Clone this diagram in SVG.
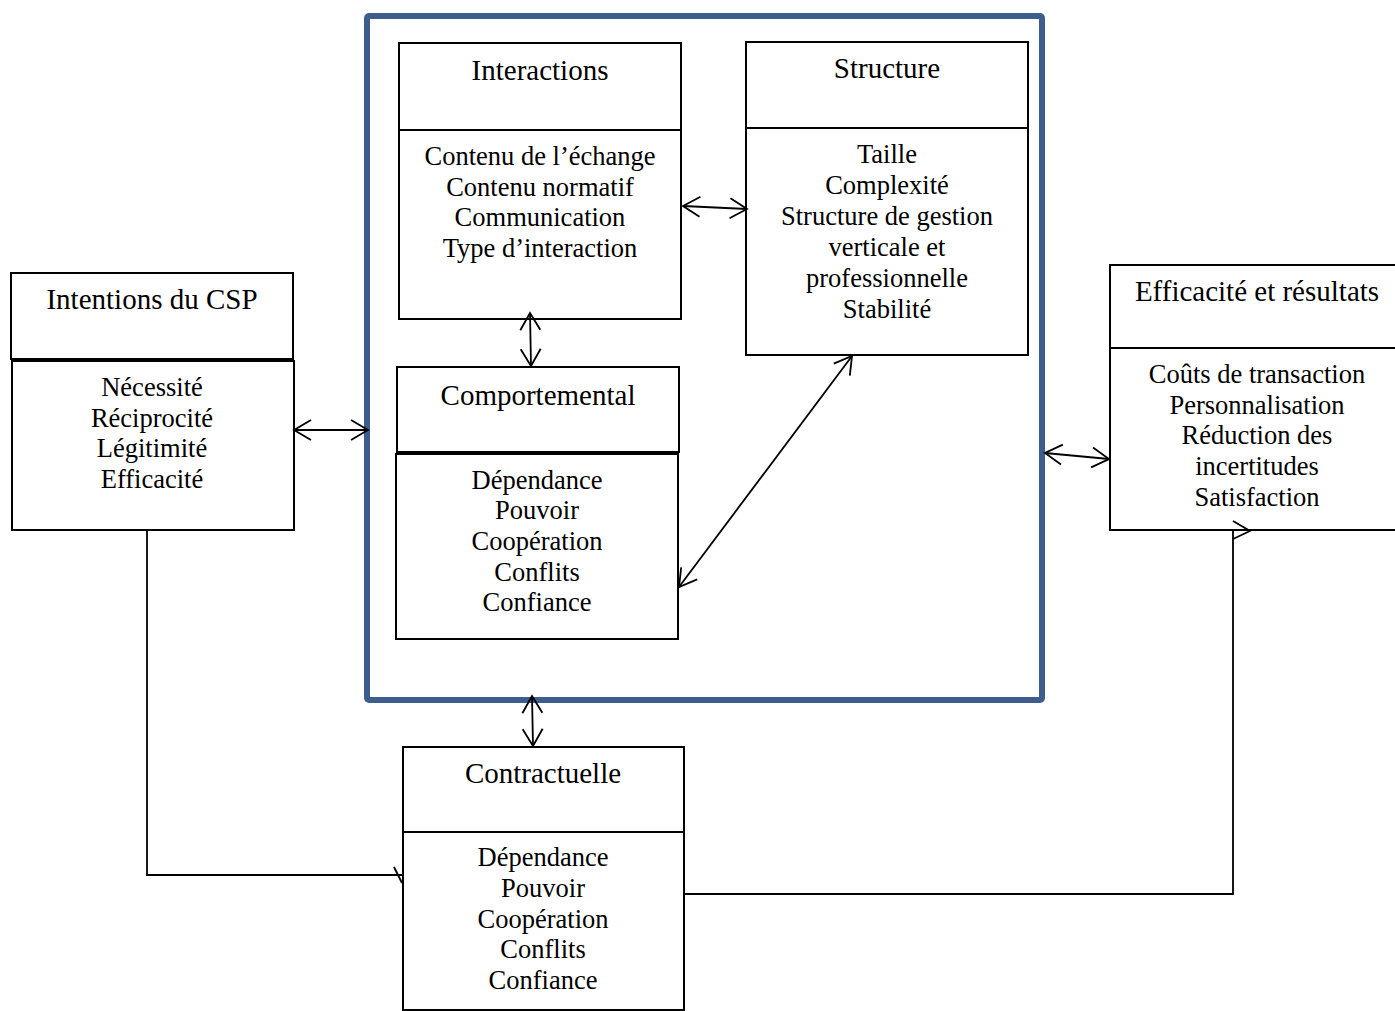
<svg xmlns="http://www.w3.org/2000/svg" width="1395" height="1011" viewBox="0 0 1395 1011">
  <style>
    .box { fill: #ffffff; stroke: #000000; stroke-width: 2; }
    .title { font-family: "Liberation Serif", "Times New Roman", serif; font-size: 29px; fill: #000000; text-anchor: middle; }
    .body { font-family: "Liberation Serif", "Times New Roman", serif; font-size: 26.5px; fill: #000000; text-anchor: middle; }
    .link { fill: none; stroke: #000000; stroke-width: 1.8; }
    .frame { fill: none; stroke: #3D5E8C; stroke-width: 6; }
  </style>
  <defs>
    <marker id="open" markerUnits="userSpaceOnUse" markerWidth="24" markerHeight="24" viewBox="-20 -12 24 24" refX="0" refY="0" orient="auto-start-reverse">
      <path d="M -17 -10 L 0 0 L -17 10" fill="none" stroke="#000000" stroke-width="1.8"/>
    </marker>
  </defs>

  <rect width="1395" height="1011" fill="#ffffff"/>

  <!-- enclosing relationship frame -->
  <g id="frame">
    <rect class="frame" x="367" y="16" width="675" height="684" rx="2"/>
  </g>

  <g id="intentions">
    <rect class="box" x="11" y="273" width="282" height="86"/>
    <rect class="box" x="12" y="361" width="282" height="169"/>
    <text class="title" x="152" y="309">Intentions du CSP</text>
    <text class="body" x="152" y="396">Nécessité</text>
    <text class="body" x="152" y="427">Réciprocité</text>
    <text class="body" x="152" y="457">Légitimité</text>
    <text class="body" x="152" y="488">Efficacité</text>
  </g>

  <g id="interactions">
    <rect class="box" x="399" y="43" width="282" height="87"/>
    <rect class="box" x="399" y="130" width="282" height="189"/>
    <text class="title" x="540" y="80">Interactions</text>
    <text class="body" x="540" y="165">Contenu de l’échange</text>
    <text class="body" x="540" y="196">Contenu normatif</text>
    <text class="body" x="540" y="226">Communication</text>
    <text class="body" x="540" y="257">Type d’interaction</text>
  </g>

  <g id="structure">
    <rect class="box" x="746" y="42" width="282" height="86"/>
    <rect class="box" x="746" y="128" width="282" height="227"/>
    <text class="title" x="887" y="78">Structure</text>
    <text class="body" x="887" y="163">Taille</text>
    <text class="body" x="887" y="194">Complexité</text>
    <text class="body" x="887" y="225">Structure de gestion</text>
    <text class="body" x="887" y="256">verticale et</text>
    <text class="body" x="887" y="287">professionnelle</text>
    <text class="body" x="887" y="318">Stabilité</text>
  </g>

  <g id="comportemental">
    <rect class="box" x="397" y="367" width="282" height="85"/>
    <rect class="box" x="396" y="454" width="282" height="185"/>
    <text class="title" x="538" y="405">Comportemental</text>
    <text class="body" x="537" y="489">Dépendance</text>
    <text class="body" x="537" y="519">Pouvoir</text>
    <text class="body" x="537" y="550">Coopération</text>
    <text class="body" x="537" y="581">Conflits</text>
    <text class="body" x="537" y="611">Confiance</text>
  </g>

  <g id="contractuelle">
    <rect class="box" x="403" y="747" width="281" height="85"/>
    <rect class="box" x="403" y="832" width="281" height="178"/>
    <text class="title" x="543" y="783">Contractuelle</text>
    <text class="body" x="543" y="866">Dépendance</text>
    <text class="body" x="543" y="897">Pouvoir</text>
    <text class="body" x="543" y="928">Coopération</text>
    <text class="body" x="543" y="958">Conflits</text>
    <text class="body" x="543" y="989">Confiance</text>
  </g>

  <g id="efficacite">
    <rect class="box" x="1110" y="265" width="300" height="83"/>
    <rect class="box" x="1110" y="348" width="300" height="182"/>
    <text class="title" x="1257" y="301">Efficacité et résultats</text>
    <text class="body" x="1257" y="383">Coûts de transaction</text>
    <text class="body" x="1257" y="414">Personnalisation</text>
    <text class="body" x="1257" y="444">Réduction des</text>
    <text class="body" x="1257" y="475">incertitudes</text>
    <text class="body" x="1257" y="506">Satisfaction</text>
  </g>

  <g id="connectors">
    <!-- two-way links -->
    <line class="link" x1="294" y1="430" x2="368" y2="430" marker-start="url(#open)" marker-end="url(#open)"/>
    <line class="link" x1="683" y1="206" x2="747" y2="209" marker-start="url(#open)" marker-end="url(#open)"/>
    <line class="link" x1="530" y1="313" x2="531" y2="366" marker-start="url(#open)" marker-end="url(#open)"/>
    <line class="link" x1="679" y1="587" x2="852" y2="356" marker-start="url(#open)" marker-end="url(#open)"/>
    <line class="link" x1="532" y1="696" x2="533" y2="746" marker-start="url(#open)" marker-end="url(#open)"/>
    <line class="link" x1="1045" y1="453" x2="1109" y2="459" marker-start="url(#open)" marker-end="url(#open)"/>
    <!-- intentions to contractuelle -->
    <polyline class="link" points="147,530 147,875 403,875"/>
    <line class="link" x1="394" y1="867" x2="402" y2="883"/>
    <!-- contractuelle to efficacite -->
    <polyline class="link" points="684,894 1233,894 1233,531"/>
    <polyline class="link" points="1233,521 1250,531 1233,539"/>
  </g>
</svg>
